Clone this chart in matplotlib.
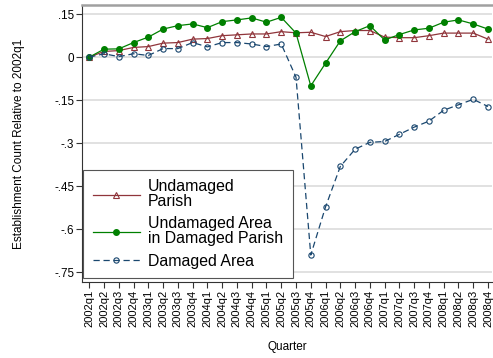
import matplotlib
matplotlib.use('Agg')
import matplotlib.pyplot as plt

plt.rcParams['font.family'] = ['Liberation Sans', 'DejaVu Sans']

QUARTERS = ['%dq%d' % (y, q) for y in range(2002, 2009) for q in range(1, 5)]

undamaged_parish = [0, 0.020, 0.023, 0.034, 0.037, 0.049, 0.051, 0.063, 0.065, 0.075,
                    0.078, 0.081, 0.081, 0.089, 0.085, 0.087, 0.072, 0.089, 0.093, 0.093,
                    0.070, 0.068, 0.068, 0.075, 0.084, 0.084, 0.084, 0.063]
undamaged_area = [0, 0.028, 0.029, 0.051, 0.070, 0.098, 0.110, 0.116, 0.103, 0.124,
                  0.130, 0.137, 0.122, 0.139, 0.084, -0.100, -0.021, 0.057, 0.089, 0.110,
                  0.060, 0.079, 0.095, 0.101, 0.122, 0.130, 0.116, 0.098]
damaged_area = [0, 0.012, 0.002, 0.012, 0.006, 0.030, 0.030, 0.051, 0.036, 0.051,
                0.051, 0.046, 0.037, 0.046, -0.070, -0.690, -0.522, -0.381, -0.321, -0.297,
                -0.294, -0.269, -0.244, -0.223, -0.185, -0.166, -0.147, -0.172]

YTICKS = [0.15, 0, -0.15, -0.3, -0.45, -0.6, -0.75]
YTICK_LABELS = ['.15', '0', '-.15', '-.3', '-.45', '-.6', '-.75']

RED = '#90353b'
GREEN = '#008000'
NAVY = '#1a476f'

fig = plt.figure(figsize=(4.93, 3.58), dpi=100)
ax = fig.add_axes([82 / 493, 1 - 282 / 358, 410 / 493, 277 / 358])
x = list(range(len(QUARTERS)))

ax.plot(x, undamaged_parish, color=RED, lw=0.9, marker='^', ms=4.2,
        mfc='none', mec=RED, mew=0.8, label='Undamaged\nParish', zorder=3)
ax.plot(x, undamaged_area, color=GREEN, lw=0.9, marker='o', ms=4.0,
        mfc=GREEN, mec=GREEN, label='Undamaged Area\nin Damaged Parish', zorder=4)
ax.plot(x, damaged_area, color=NAVY, lw=0.9, ls=(0, (5, 3)), marker='o', ms=3.8,
        mfc='none', mec=NAVY, mew=0.8, label='Damaged Area', zorder=5)

ax.set_xlim(-0.49, 27.27)
ax.set_ylim(-0.784, 0.182)
ax.set_xticks(x)
ax.set_xticklabels(QUARTERS, rotation=90, fontsize=8)
ax.set_yticks(YTICKS)
ax.set_yticklabels(YTICK_LABELS, fontsize=8.4)
ax.yaxis.grid(True, color='#dcdcdc', lw=1.2)
ax.set_axisbelow(True)
ax.tick_params(axis='both', length=4, width=0.8, color='#333333', pad=1.5)

ax.spines['right'].set_visible(False)
ax.spines['top'].set_color('#a0a0a0')
ax.spines['top'].set_linewidth(1.8)
ax.spines['left'].set_color('#333333')
ax.spines['bottom'].set_color('#333333')

ax.set_xlabel('Quarter', fontsize=8.5, labelpad=10)
ax.set_ylabel('Establishment Count Relative to 2002q1', fontsize=8.5, labelpad=21)

leg = ax.legend(loc='lower left', bbox_to_anchor=(0.003, 0.014), borderaxespad=0,
                fontsize=11.4, handlelength=3.0, handletextpad=0.5, labelspacing=0.45,
                fancybox=False, framealpha=1, edgecolor='#555555', borderpad=0.6)
leg.get_frame().set_linewidth(0.8)
for t in leg.get_texts():
    t.set_linespacing(1.0)

fig.savefig('out.png', dpi=100)
